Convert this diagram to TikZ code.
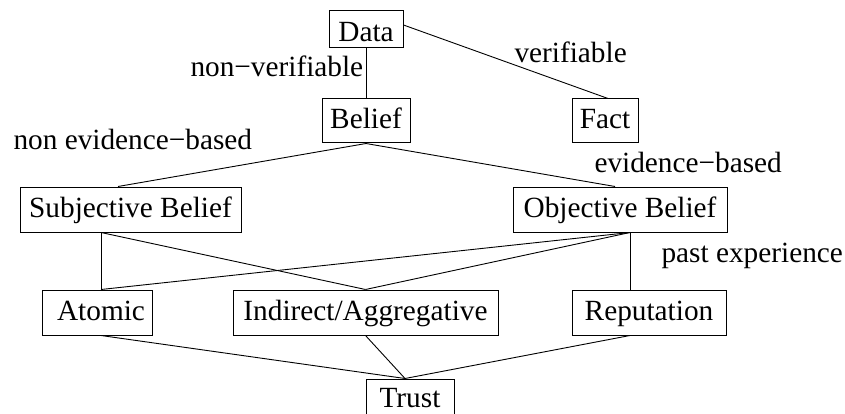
\documentclass[tikz,border=0pt]{standalone}
\usepackage{fontspec}
\setmainfont{Liberation Serif}
\begin{document}
\begin{tikzpicture}[x=1pt,y=-1pt,line width=1pt,
  every node/.style={font=\fontsize{29.3}{35}\selectfont},
  box/.style={draw,inner sep=0pt,text height=20.4pt,text depth=5.4pt,minimum height=45pt},
  lbl/.style={inner sep=0pt,anchor=base west},
  conn/.style={line width=0.9pt}]
\useasboundingbox (0,0) rectangle (845,414);
% boxes
\node[box,minimum width=74pt,minimum height=37pt,text height=25pt,text depth=0pt] (data) at (366,29.5) {Data};
\node[box,minimum width=88pt,minimum height=44pt] (belief) at (366,121) {Belief};
\node[box,minimum width=66pt,minimum height=44pt] (fact) at (605,121) {Fact};
\node[box,minimum width=221pt] (subj) at (130.5,209.5) {Subjective Belief};
\node[box,minimum width=214pt] (obj) at (620,209.5) {Objective Belief};
\node[box,minimum width=110pt] (atomic) at (97,312.5) {\hspace*{8pt}Atomic};
\node[box,minimum width=265pt] (indirect) at (365.5,312.5) {Indirect/Aggregative};
\node[box,minimum width=154pt] (rep) at (649,312.5) {Reputation};
\node[box,minimum width=88pt,minimum height=41pt] (trust) at (410,399.5) {Trust};
% labels
\node[lbl] (l1) at (190,77) {non−verifiable};
\node[lbl] (l2) at (514,63) {verifiable};
\node[lbl] (l3) at (13,150) {non evidence−based};
\node[lbl] (l4) at (594,173) {evidence−based};
\node[lbl] (l5) at (661,262) {past experience};
% connectors
\draw[conn] (data.south) -- (belief.north);
\draw[conn] ([yshift=4.5pt]data.east) -- ([xshift=3pt]fact.north);
\draw[conn] (belief.south) -- ([xshift=-12.5pt]subj.north);
\draw[conn] (belief.south) -- ([xshift=-5pt]obj.north);
\draw[conn] ([xshift=-29.5pt]subj.south) -- ([xshift=4pt]atomic.north);
\draw[conn] ([xshift=-29.5pt]subj.south) -- (indirect.north);
\draw[conn] ([xshift=10pt]obj.south) -- ([xshift=4pt]atomic.north);
\draw[conn] ([xshift=10pt]obj.south) -- (indirect.north);
\draw[conn] ([xshift=10pt]obj.south) -- ([xshift=-19pt]rep.north);
\draw[conn] ([xshift=4pt]atomic.south) -- ([xshift=-5pt]trust.north);
\draw[conn] (indirect.south) -- ([xshift=-5pt]trust.north);
\draw[conn] ([xshift=-19pt]rep.south) -- ([xshift=-5pt]trust.north);
\end{tikzpicture}
\end{document}
